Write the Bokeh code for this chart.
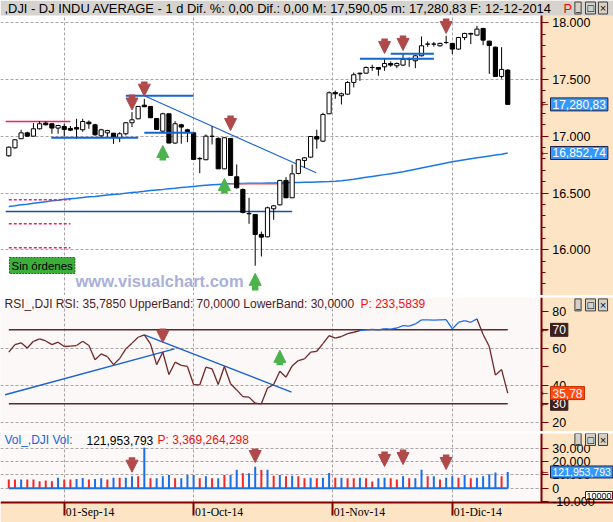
import numpy as np
from datetime import date
from bokeh.plotting import figure
from bokeh.models import (Range1d, FixedTicker, Label, LabelSet, Arrow, NormalHead,
                          ColumnDataSource, BoxAnnotation)
from bokeh.layouts import column
from bokeh.embed import file_html
from bokeh.resources import INLINE

# ---------------- data ----------------
dates = ["2014-08-19", "2014-08-20", "2014-08-21", "2014-08-22", "2014-08-25", "2014-08-26",
         "2014-08-27", "2014-08-28", "2014-08-29",
         "2014-09-02", "2014-09-03", "2014-09-04", "2014-09-05", "2014-09-08", "2014-09-09",
         "2014-09-10", "2014-09-11", "2014-09-12", "2014-09-15", "2014-09-16", "2014-09-17",
         "2014-09-18", "2014-09-19", "2014-09-22", "2014-09-23", "2014-09-24", "2014-09-25",
         "2014-09-26", "2014-09-29", "2014-09-30",
         "2014-10-01", "2014-10-02", "2014-10-03", "2014-10-06", "2014-10-07", "2014-10-08",
         "2014-10-09", "2014-10-10", "2014-10-13", "2014-10-14", "2014-10-15", "2014-10-16",
         "2014-10-17", "2014-10-20", "2014-10-21", "2014-10-22", "2014-10-23", "2014-10-24",
         "2014-10-27", "2014-10-28", "2014-10-29", "2014-10-30", "2014-10-31",
         "2014-11-03", "2014-11-04", "2014-11-05", "2014-11-06", "2014-11-07", "2014-11-10",
         "2014-11-11", "2014-11-12", "2014-11-13", "2014-11-14", "2014-11-17", "2014-11-18",
         "2014-11-19", "2014-11-20", "2014-11-21", "2014-11-24", "2014-11-25", "2014-11-26",
         "2014-11-28",
         "2014-12-01", "2014-12-02", "2014-12-03", "2014-12-04", "2014-12-05", "2014-12-08",
         "2014-12-09", "2014-12-10", "2014-12-11", "2014-12-12"]

opens = [16828, 16898, 16978, 17030, 17001, 17066, 17116, 17110, 17072,
         17086, 17069, 17077, 17057, 17124, 17101, 17004, 17030, 17027, 16987, 17022, 17119,
         17154, 17274, 17263, 17157, 17045, 17198, 16940, 17101, 17057,
         17030, 16805, 16793, 17001, 16981, 16713, 16981, 16643, 16531, 16320, 16311, 16135,
         16114, 16361, 16396, 16611, 16458, 16672, 16787, 16816, 16998, 16957, 17198,
         17386, 17357, 17371, 17474, 17556, 17556, 17606, 17606, 17612, 17641, 17621, 17627,
         17677, 17665, 17709, 17812, 17812, 17797, 17826,
         17818, 17768, 17870, 17906, 17891, 17950, 17838, 17785, 17527, 17583]
highs = [16910, 16975, 17057, 17040, 17116, 17133, 17130, 17115, 17100,
         17110, 17090, 17154, 17154, 17139, 17110, 17066, 17057, 17030, 17036, 17125, 17213,
         17266, 17330, 17265, 17160, 17207, 17200, 17133, 17110, 17066,
         17040, 16816, 17016, 17089, 16990, 16990, 16985, 16752, 16540, 16458, 16315, 16160,
         16380, 16395, 16615, 16640, 16750, 16800, 16815, 17002, 17057, 17207, 17395,
         17403, 17385, 17485, 17562, 17560, 17615, 17630, 17610, 17680, 17659, 17650, 17724,
         17694, 17715, 17879, 17835, 17830, 17825, 17885,
         17822, 17875, 17912, 17912, 17973, 17955, 17842, 17790, 17785, 17590.05]
lows = [16820, 16890, 16975, 16995, 16998, 17060, 17095, 17022, 17022,
        16998, 17045, 16977, 17040, 17066, 17005, 16990, 16995, 16933, 16948, 17007, 17080,
        17150, 17257, 17160, 17055, 17036, 16940, 16935, 16934, 16948,
        16796, 16675, 16790, 16928, 16713, 16710, 16655, 16540, 16320, 16229, 15859, 15941,
        16110, 16264, 16390, 16455, 16455, 16665, 16722, 16810, 16890, 16950, 17195,
        17330, 17280, 17365, 17430, 17488, 17550, 17577, 17533, 17577, 17612, 17600, 17620,
        17612, 17600, 17705, 17788, 17790, 17790, 17812,
        17724, 17765, 17847, 17812, 17888, 17803, 17550, 17527, 17507, 17280.83]
closes = [16904, 16969, 17030, 17001, 17066, 17110, 17101, 17072, 17095,
          17060, 17054, 17063, 17130, 17110, 17013, 17057, 17050, 16988, 17022, 17119, 17145,
          17263, 17260, 17163, 17060, 17198, 16940, 17110, 17081, 17036,
          16796, 16801, 17001, 16998, 16713, 16987, 16655, 16546, 16329, 16317, 16135, 16111,
          16370, 16387, 16611, 16458, 16669, 16793, 16810, 16998, 16975, 17192, 17383,
          17374, 17374, 17474, 17542, 17550, 17606, 17606, 17591, 17641, 17627, 17641, 17677,
          17677, 17709, 17797, 17812, 17812, 17818, 17826,
          17768, 17870, 17906, 17900, 17944, 17847, 17800, 17527, 17589, 17280.83]

ma200 = [16382, 16388, 16396, 16402, 16410, 16417, 16423, 16431, 16437, 16444,
         16450, 16454, 16460, 16466, 16470, 16476, 16482, 16487, 16492, 16499,
         16504, 16509, 16515, 16522, 16527, 16532, 16538, 16543, 16549, 16553,
         16558, 16563, 16568, 16572, 16576, 16579, 16581, 16583, 16584, 16585,
         16586, 16587, 16588, 16589, 16590, 16591, 16592, 16593, 16594, 16595,
         16597, 16599, 16601, 16604, 16609, 16615, 16622, 16630, 16638, 16646,
         16654, 16662, 16670, 16678, 16688, 16699, 16710, 16721, 16732, 16743,
         16754, 16765, 16776, 16785, 16794, 16802, 16810, 16818, 16826, 16834,
         16842, 16852.74]

rsi = [57.9, 62.0, 63.0, 60.2, 63.8, 65.1, 64.0, 62.0, 63.3, 61.0,
       61.2, 61.5, 63.8, 61.5, 53.8, 57.0, 55.5, 51.2, 54.5, 59.7,
       62.8, 66.0, 67.3, 62.4, 51.2, 57.9, 45.8, 52.5, 50.8, 50.2,
       40.4, 40.2, 49.8, 48.9, 40.4, 50.2, 40.8, 37.5, 33.9, 33.6,
       30.3, 30.0, 38.5, 40.4, 47.6, 44.4, 50.5, 53.4, 54.3, 57.9,
       58.4, 62.5, 66.9, 65.5, 66.4, 68.0, 68.7, 69.6, 70.0, 70.2,
       70.0, 70.6, 70.4, 71.0, 72.3, 72.0, 73.2, 75.4, 75.4, 75.3,
       75.4, 75.5, 70.5, 74.0, 75.0, 74.1, 75.9, 67.5, 61.0, 45.5,
       48.5, 35.785]

# volume in units of 10,000 shares
volume = [6450, 6450, 6450, 6450, 6450, 5200, 5700, 5200, 7940, 6450,
          6450, 6940, 7690, 6450, 6940, 7440, 6450, 7940, 7940, 7940,
          8930, 8930, 30500, 7440, 7440, 8930, 9920, 7440, 7440, 9920,
          9920, 7440, 8930, 7440, 7440, 9920, 9920, 13890, 11160, 11160,
          16120, 13640, 13890, 9420, 9920, 8930, 9420, 8930, 7440, 7940,
          7440, 7940, 11410, 7940, 7940, 7440, 7440, 7940, 7440, 4960,
          7440, 7940, 7440, 6450, 8930, 7440, 7440, 13890, 8930, 8930,
          6450, 7940, 8930, 7940, 9920, 7440, 7940, 8930, 10420, 11900,
          8930, 12195.3793]
vol_side = ["r", "r", "b", "r", "r", "r", "r", "r", "b", "r",
            "r", "b", "b", "r", "b", "b", "r", "b", "r", "b",
            "b", "r", "b", "r", "b", "b", "b", "r", "b", "b",
            "b", "r", "b", "r", "b", "r", "b", "b", "r", "b",
            "b", "r", "b", "r", "b", "r", "b", "r", "r", "b",
            "r", "b", "b", "r", "b", "r", "r", "b", "r", "r",
            "b", "b", "r", "r", "b", "r", "b", "b", "r", "b",
            "r", "b", "b", "r", "b", "r", "b", "b", "b", "b",
            "r", "b"]

month_starts = ["2014-09-01", "2014-10-01", "2014-11-01", "2014-12-01"]
month_labels = ["01-Sep-14", "01-Oct-14", "01-Nov-14", "01-Dic-14"]

price_ticks = [16000, 16500, 17000, 17500, 18000]
price_labels = ["16.000", "16.500", "17.000", "17.500", "18.000"]
rsi_ticks = [20, 30, 40, 50, 60, 70, 80]
rsi_labels = ["20", "", "40", "", "60", "", "80"]
vol_ticks = [-10000, 0, 10000, 20000, 30000]
vol_labels = ["-10.000", "0", "10.000", "20.000", "30.000"]

# signals (index, arrow start, arrow tip)
sell_idx = [20, 22, 36, 61, 64, 71]
sell_from = [17367, 17483, 17183, 17862, 17888, 18038]
sell_to = [17231, 17353, 17051, 17730, 17756, 17906]
buy_idx = [25, 35, 40]
buy_from = [16787, 16496, 15642]
buy_to = [16919, 16628, 15792]
rsi_sell = [(25, 70.7, 63.1)]
rsi_buy = [(44, 50.8, 58.9)]
vol_sell_idx = [20, 40, 61, 64, 71]
vol_sell_from = [23300, 29850, 27600, 29100, 25300]
vol_sell_to = [12030, 19320, 16300, 17800, 14060]

# drawn levels / trend lines (x0, y0, x1, y1)
blue_levels = [(6.9, 16987, 21, 16987), (19, 17357, 30, 17357), (22, 17031, 30, 17031),
               (57, 17683, 69, 17683), (62, 17727, 69, 17727)]
blue_trend = [(22, 17357, 49.9, 16678)]
navy_levels = [(-0.5, 16337, 46, 16337)]
red_levels = [(36, 16582, 44.6, 16582)]
pink_levels = [(-0.5, 17130, 10, 17130)]
pink_dashed = [(0, 16440, 10, 16440), (0, 16229, 10, 16229), (0, 16018, 10, 16018)]
rsi_trend = [(-0.6, 34.9, 26.9, 59.7), (22, 67.3, 45.9, 36.3)]

# ---------------- styling / geometry ----------------
W = 613
PLOT_W = 540.7          # x position of the price scale line
FONT = "Liberation Sans"
DARK_RED = "#800000"
PEACH = "#fce4c4"
GRID = "#a8a4a8"
PANE_BG = "#fdf8f8"
BLUE = "#1a6ee8"
RED = "#f02828"
TITLE_GRAY = "#d6d3ce"

H_TITLE, H_MAIN, H_SEP, H_RSI, H_VOL, H_DATE = 15, 280, 2, 134, 69, 20

n = len(dates)
x = np.arange(n)

X0, AX = -1.347, 86.43
XEND = X0 + (AX - X0) * W / PLOT_W
xr = Range1d(X0, XEND)

P_LO, P_HI = 15597, 18064
P_TOP = P_HI + (P_HI - P_LO) * H_TITLE / H_MAIN     # room for the window title bar
R_LO, R_HI = 15.0, 87.5
V_LO, V_HI = -10750, 41130
V_BOT = V_LO - (V_HI - V_LO) * H_DATE / H_VOL       # room for the date strip


def fmt(v, d=2):
    return f"{v:,.{d}f}".replace(".", ",")


def month_pos(ms):
    d = date.fromisoformat(ms)
    i = next(k for k, s in enumerate(dates) if s >= ms)
    return i - 0.5 if d.weekday() >= 5 else float(i)


mpos = [month_pos(m) for m in month_starts]


def pane(h, yr, bg, ticks, labels, grid_ticks, bounds, minor=None, xaxis=False):
    f = figure(width=W, height=h, x_range=xr, y_range=yr, output_backend="svg",
               toolbar_location=None, x_axis_location=("below" if xaxis else None),
               y_axis_location="right", background_fill_color=bg, border_fill_color=PEACH,
               outline_line_color=None, min_border=0, min_border_left=0, min_border_right=0,
               min_border_top=0, min_border_bottom=0)
    ax = f.yaxis[0]
    ax.fixed_location = AX
    ax.bounds = bounds
    ax.ticker = FixedTicker(ticks=ticks, minor_ticks=minor or [])
    ax.major_label_overrides = {t: s for t, s in zip(ticks, labels)}
    ax.axis_line_color = DARK_RED
    ax.axis_line_width = 2
    ax.major_tick_line_color = DARK_RED
    ax.minor_tick_line_color = DARK_RED
    ax.major_tick_in = 0
    ax.minor_tick_in = 0
    ax.major_tick_out = 7
    ax.minor_tick_out = 4
    ax.major_label_standoff = 4
    ax.major_label_text_font = FONT
    ax.major_label_text_font_size = "12.5px"
    ax.major_label_text_color = "black"
    f.xgrid.ticker = FixedTicker(ticks=mpos)
    f.ygrid.ticker = FixedTicker(ticks=grid_ticks)
    for g in (f.xgrid, f.ygrid):
        g.grid_line_color = GRID
        g.grid_line_dash = "3 2"
        g.grid_line_width = 1
    # price-scale strip on the right
    f.add_layout(BoxAnnotation(left=AX, fill_color=PEACH, fill_alpha=1, line_color=None,
                               level="underlay"))
    return f


def tag(f, y, text, bg, fg="white", x=550, size="12px", border="#202040"):
    f.add_layout(Label(x=x, y=y, x_units="screen", y_units="data", text=text,
                       text_font=FONT, text_font_size=size, text_color=fg,
                       text_baseline="middle", text_align="left",
                       background_fill_color=bg, border_line_color=border, padding=2))


def pointer(f, y, x=544):
    f.add_layout(Label(x=x, y=y, x_units="screen", y_units="data", text="\u2190",
                       text_font="DejaVu Sans", text_font_size="9px", text_color=DARK_RED,
                       text_baseline="middle", text_align="center"))


def buttons(f, y):
    for bx, sym in zip([577.5, 590, 602.5], ["_", "\u25a1", "\u00d7"]):
        f.add_layout(Label(x=bx, y=y, x_units="screen", y_units="screen", text=sym,
                           text_font="DejaVu Sans", text_font_size="8.5px", text_color="black",
                           text_baseline="middle", text_align="center",
                           background_fill_color="#d4d0c8", border_line_color="#404040",
                           padding=1))


def arrows(f, xs, y0s, y1s, color):
    for xv, a, b in zip(xs, y0s, y1s):
        f.add_layout(Arrow(end=NormalHead(size=12, fill_color=color, line_color=color,
                                          line_width=1),
                           x_start=xv, y_start=a, x_end=xv, y_end=b,
                           line_color=color, line_width=6.5))


def seg(f, lines, color, width, dash="solid"):
    x0, y0, x1, y1 = zip(*lines)
    f.segment(x0=list(x0), y0=list(y0), x1=list(x1), y1=list(y1), line_color=color,
              line_width=width, line_dash=dash)


def text(f, xs, ys, s, color, size="12px", **kw):
    f.add_layout(Label(x=xs, y=ys, x_units="screen", y_units="screen", text=s, text_font=FONT,
                       text_font_size=size, text_color=color, text_baseline="middle", **kw))


# ---------------- price pane (with window title bar) ----------------
HM = H_TITLE + H_MAIN
main = pane(HM, Range1d(P_LO, P_TOP), "white", price_ticks, price_labels, price_ticks,
            (P_LO, P_HI), minor=[v for v in range(15600, 18100, 100) if v % 500])
main.add_layout(BoxAnnotation(bottom=P_HI, fill_color=TITLE_GRAY, fill_alpha=1,
                              line_color=None, level="underlay"))

src = ColumnDataSource(dict(
    x=x, o=opens, h=highs, l=lows, c=closes,
    top=np.maximum(opens, closes), bot=np.minimum(opens, closes),
    fill=["white" if c >= o else "black" for o, c in zip(opens, closes)]))
main.line(x, ma200, line_color="#1a78e6", line_width=1.5)
seg(main, navy_levels, "#1050b0", 1.5)
seg(main, red_levels, "#f05050", 1.5)
seg(main, pink_levels, "#e8246e", 1.5)
seg(main, pink_dashed, "#e8246e", 1.5, "3 2")
seg(main, blue_trend, "#1a64d0", 1.2)
main.segment(x0="x", y0="l", x1="x", y1="h", line_color="black", line_width=1, source=src)
main.vbar(x="x", top="top", bottom="bot", width=0.68, fill_color="fill",
          line_color="black", line_width=1, source=src)
seg(main, blue_levels, "#1464d2", 1.8)

arrows(main, sell_idx, sell_from, sell_to, "#b04a4a")
arrows(main, buy_idx, buy_from, buy_to, "#4cb34c")

text(main, 75, 15, "www.visualchart.com", "#aab0da", size="16.5px", text_font_style="bold")
main.add_layout(Label(x=9, y=22, x_units="screen", y_units="screen", text="Sin \u00f3rdenes",
                      text_font=FONT, text_font_size="11.5px", text_color="black",
                      text_baseline="bottom", background_fill_color="#3cae3c",
                      border_line_color="#1d6b1d", border_line_dash="2 1", padding=2))

d_last = date.fromisoformat(dates[-1])
title_txt = (f",DJI - DJ INDU AVERAGE -  1 d Dif. %: 0,00 Dif.: 0,00 M: {fmt(highs[-1])} "
             f"m: {fmt(lows[-1])} F: {d_last.strftime('%d-%m-%Y')}")
text(main, 4, HM - 7.5, title_txt, "black", size="12.9px")
text(main, 563, HM - 7.5, "P", "#ff0000", size="12.9px")
buttons(main, HM - 7.5)

pointer(main, closes[-1])
tag(main, closes[-1], fmt(closes[-1]), "#3399ff")
pointer(main, ma200[-1])
tag(main, ma200[-1], fmt(ma200[-1]), "#3399ff")


# ---------------- separators ----------------
def separator():
    s = figure(width=W, height=H_SEP, output_backend="svg", toolbar_location=None,
               x_axis_location=None, y_axis_location=None, background_fill_color="black",
               border_fill_color="black", outline_line_color=None, min_border=0)
    s.xgrid.visible = False
    s.ygrid.visible = False
    return s


# ---------------- RSI pane ----------------
rp = pane(H_RSI, Range1d(R_LO, R_HI), PANE_BG, rsi_ticks, rsi_labels, [20, 40, 60],
          (R_LO, R_HI))
rp.segment(x0=[x[0], x[0]], y0=[70, 30], x1=[x[-1], x[-1]], y1=[70, 30],
           line_color="#5a2a2a", line_width=1.5)
seg(rp, rsi_trend, "#1a64d0", 1.5)
rcol = [BLUE if min(a, b) >= 69.5 else "#6e2828" for a, b in zip(rsi[:-1], rsi[1:])]
rp.segment(x0=x[:-1], y0=rsi[:-1], x1=x[1:], y1=rsi[1:], line_color=rcol, line_width=1.3)
arrows(rp, [a for a, _, _ in rsi_sell], [b for _, b, _ in rsi_sell],
       [c for _, _, c in rsi_sell], "#b04a4a")
arrows(rp, [a for a, _, _ in rsi_buy], [b for _, b, _ in rsi_buy],
       [c for _, _, c in rsi_buy], "#4cb34c")
text(rp, 4, H_RSI - 6.3,
     f"RSI_,DJI RSI: {rsi[-1]:.4f}".replace(".", ",") + " UpperBand: 70,0000 LowerBand: 30,0000",
     "#4a1f1f")
text(rp, 360, H_RSI - 6.3, "P: 233,5839", "#f01010")
buttons(rp, H_RSI - 7.4)
pointer(rp, 70)
tag(rp, 70, "70", "#3c2020", border="#3c2020")
pointer(rp, 30)
tag(rp, 30, "30", "#3c2020", border="#3c2020")
pointer(rp, rsi[-1])
tag(rp, rsi[-1], fmt(rsi[-1]), "#ff4a12", border="#c03000")

# ---------------- volume pane (with date strip) ----------------
HV = H_VOL + H_DATE
vp = pane(HV, Range1d(V_BOT, V_HI), PANE_BG, vol_ticks, vol_labels, [0, 10000, 20000, 30000],
          (V_LO, V_HI), xaxis=True)
vp.add_layout(BoxAnnotation(top=V_LO, fill_color=PEACH, fill_alpha=1, line_color=None,
                            level="underlay"))
vp.segment(x0=x, y0=0, x1=x, y1=volume,
           line_color=[BLUE if s == "b" else RED for s in vol_side], line_width=2)
vp.segment(x0=[x[0]], y0=[0], x1=[x[-1]], y1=[0], line_color=BLUE, line_width=2)
arrows(vp, vol_sell_idx, vol_sell_from, vol_sell_to, "#b04a4a")

vlast = int(round(volume[-1] * 10000))
text(vp, 4, HV - 6.5, "Vol_,DJI Vol:", "#1565e0")
text(vp, 86, HV - 6.5, f"{vlast:,}", "black")
text(vp, 157, HV - 6.5, "P: 3,369,264,298", "#f01010")
buttons(vp, HV - 6.0)
pointer(vp, volume[-1])
tag(vp, volume[-1], f"{vlast:,}", "#3399ff", size="10.5px")
vp.add_layout(Label(x=585, y=H_DATE + 7, x_units="screen", y_units="screen", text="10000",
                    text_font=FONT, text_font_size="9px", text_color="black",
                    text_baseline="middle", background_fill_color="white",
                    border_line_color=DARK_RED, padding=1))

xa = vp.xaxis[0]
xa.fixed_location = V_LO
xa.ticker = FixedTicker(ticks=mpos)
xa.major_label_overrides = {m: "" for m in mpos}
xa.major_label_text_font_size = "1px"
xa.major_label_standoff = 0
xa.axis_line_color = DARK_RED
xa.axis_line_width = 2
xa.major_tick_line_color = DARK_RED
xa.major_tick_line_width = 2
xa.major_tick_in = 0
xa.major_tick_out = 13
xa.minor_tick_line_color = None

dsrc = ColumnDataSource(dict(x=mpos, t=month_labels))
vp.add_layout(LabelSet(x="x", y=H_DATE - 9.7, y_units="screen", text="t", source=dsrc,
                       text_font=FONT, text_font_size="11.7px", text_color="black",
                       text_align="left", text_baseline="middle", x_offset=1.5))

layout = column(main, separator(), rp, separator(), vp, spacing=0)
open("out.html", "w").write(file_html(layout, INLINE, title="DJI"))
